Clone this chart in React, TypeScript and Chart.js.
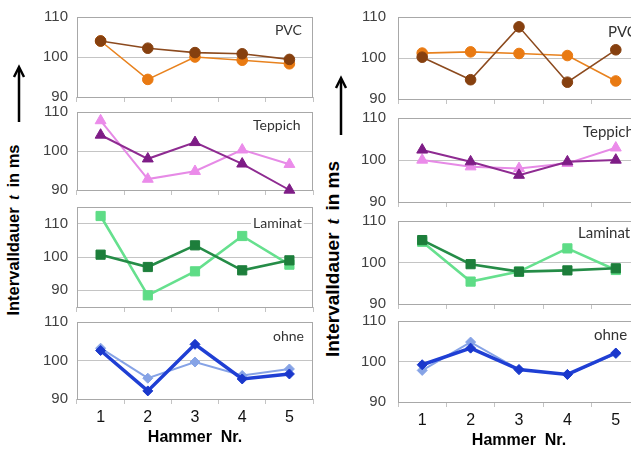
import React, { useEffect, useRef } from "react";
import { Chart, registerables } from "chart.js";

Chart.register(...registerables);

// ---------- data ----------
const hammerLabels = ["1", "2", "3", "4", "5"];
const yTickValues = [90, 100, 110];
const surfaceNames = ["PVC", "Teppich", "Laminat", "ohne"];
const xAxisTitle = "Hammer  Nr.";

// left panel
const leftPvcDark = [104.0, 102.2, 101.1, 100.8, 99.4];
const leftPvcLight = [104.0, 94.4, 100.0, 99.2, 98.3];
const leftTeppichDark = [104.1, 98.0, 102.2, 96.7, 90.0];
const leftTeppichLight = [107.8, 92.8, 94.8, 100.3, 96.6];
const leftLaminatDark = [100.7, 97.0, 103.5, 96.0, 99.0];
const leftLaminatLight = [112.3, 88.5, 95.7, 106.3, 97.7];
const leftOhneDark = [102.6, 92.1, 104.2, 95.2, 96.5];
const leftOhneLight = [103.2, 95.4, 99.6, 96.1, 97.8];

// right panel
const rightPvcDark = [100.2, 94.7, 107.6, 94.1, 102.0];
const rightPvcLight = [101.2, 101.5, 101.1, 100.6, 94.4];
const rightTeppichDark = [102.4, 99.6, 96.4, 99.6, 100.0];
const rightTeppichLight = [100.0, 98.4, 98.0, 99.2, 102.9];
const rightLaminatDark = [105.4, 99.6, 97.8, 98.1, 98.6];
const rightLaminatLight = [105.0, 95.4, 97.8, 103.4, 98.2];
const rightOhneDark = [99.2, 103.3, 98.0, 96.8, 102.1];
const rightOhneLight = [97.8, 104.8, 98.0, 96.8, 101.9];

// y ranges per subplot (min, max)
const leftRanges = [[90, 110], [90, 110], [85, 115], [90, 110]];
const rightRanges = [[90, 110], [90, 110], [90, 110], [90, 110]];

// ---------- styles / layout ----------
const STY: any = {
  PVC: { a: "#8C4A1E", aPt: "#86400F", b: "#E8821E", bPt: "#E97A12", shape: "circle", r: 5.3, wA: 1.6, wB: 1.6 },
  Teppich: { a: "#8E2B91", aPt: "#7E1C86", b: "#E68AE6", bPt: "#EB8BEA", shape: "triangle", r: 6.3, wA: 2, wB: 2 },
  Laminat: { a: "#258C47", aPt: "#1D7E3B", b: "#66E08E", bPt: "#5EDC86", shape: "rect", r: 6.5, wA: 2.6, wB: 2.6 },
  ohne: { a: "#1F3FD4", aPt: "#1A38CC", b: "#86A3E6", bPt: "#86A3E6", shape: "rectRot", r: 5, wA: 3.5, wB: 2 },
};

const Y_W = 60;
const PAD_T = 10;
const PAD_R = 12;
const GRID = "#c4c4c4";
const FRAME = "#a8a8a8";

const zeroPad = (sc: any) => {
  sc.paddingTop = 0;
  sc.paddingBottom = 0;
  sc.paddingLeft = 0;
  sc.paddingRight = 0;
};

const framePlugin = {
  id: "frame",
  beforeDatasetsDraw(chart: any, _args: any, o: any) {
    const { ctx, chartArea: a } = chart;
    ctx.save();
    ctx.strokeStyle = FRAME;
    ctx.lineWidth = 1;
    ctx.strokeRect(Math.round(a.left) + 0.5, Math.round(a.top) + 0.5, Math.round(a.right - a.left) - 1, Math.round(a.bottom - a.top));
    ctx.font = o.font;
    ctx.textAlign = "left";
    ctx.textBaseline = "middle";
    const x = a.left + o.dx;
    const y = a.top + o.dy;
    if (o.bg) {
      const w = ctx.measureText(o.text).width;
      ctx.fillStyle = "#ffffff";
      ctx.fillRect(x - 2, y - 8, w + 4, 16);
    }
    ctx.fillStyle = "#333333";
    ctx.fillText(o.text, x, y);
    ctx.restore();
  },
};

function SubChart(p: any) {
  const ref = useRef<HTMLCanvasElement>(null);
  const xH = p.bottom ? 48 : 10;
  const cw = Y_W + p.w + PAD_R;
  const ch = PAD_T + p.h + xH;
  useEffect(() => {
    const s = STY[p.name];
    const chart = new Chart(ref.current as HTMLCanvasElement, {
      type: "line",
      data: {
        labels: hammerLabels,
        datasets: [
          {
            data: p.a, borderColor: s.a, backgroundColor: s.aPt, pointBackgroundColor: s.aPt,
            pointBorderColor: s.aPt, borderWidth: s.wA, pointStyle: s.shape, pointRadius: s.r,
            pointBorderWidth: 1, tension: 0, clip: false,
          },
          {
            data: p.b, borderColor: s.b, backgroundColor: s.bPt, pointBackgroundColor: s.bPt,
            pointBorderColor: s.bPt, borderWidth: s.wB, pointStyle: s.shape, pointRadius: s.r,
            pointBorderWidth: 1, tension: 0, clip: false,
          },
        ],
      },
      options: {
        responsive: false,
        animation: false,
        devicePixelRatio: 1,
        events: [],
        layout: { padding: { top: PAD_T, right: PAD_R, left: 0, bottom: 0 } },
        plugins: {
          legend: { display: false },
          tooltip: { enabled: false },
          frame: { text: p.name, font: `${p.labelSize}px Lato, "Open Sans", sans-serif`, dx: p.dx, dy: p.dy, bg: p.name === "Laminat" },
        } as any,
        scales: {
          x: {
            type: "category",
            offset: true,
            grid: { display: true, drawOnChartArea: false, drawTicks: true, tickLength: 5, color: GRID, offset: true },
            border: { display: false },
            ticks: { display: p.bottom, padding: 4, color: "#111", font: { family: "Liberation Sans", size: 16 } },
            title: { display: p.bottom, text: xAxisTitle, padding: 0, color: "#000", font: { family: "Liberation Sans", size: 16, weight: "bold" } },
            afterFit: (sc: any) => { sc.height = xH; zeroPad(sc); },
          },
          y: {
            min: p.min,
            max: p.max,
            afterBuildTicks: (sc: any) => { sc.ticks = yTickValues.map((v) => ({ value: v })); },
            grid: { color: GRID, drawTicks: false },
            border: { display: false },
            ticks: { padding: p.tickPad, color: "#404040", font: { family: "Liberation Sans", size: 15 } },
            afterFit: (sc: any) => { sc.width = Y_W; zeroPad(sc); },
          },
        },
      } as any,
      plugins: [framePlugin as any],
    });
    return () => chart.destroy();
  }, []);
  return (
    <canvas
      ref={ref}
      width={cw}
      height={ch}
      style={{ position: "absolute", left: p.l - Y_W, top: p.t - PAD_T, width: cw, height: ch }}
    />
  );
}

function YTitle({ cx, cy, size }: any) {
  return (
    <div
      style={{
        position: "absolute", left: cx - 150, top: cy - 15, width: 300, height: 30, lineHeight: "30px",
        textAlign: "center", transform: "rotate(-90deg)", whiteSpace: "pre", color: "#000",
        font: `bold ${size}px "Liberation Sans", Arial, sans-serif`,
      }}
    >
      {"Intervalldauer "}
      <i style={{ fontFamily: '"Liberation Serif", serif', margin: "0 3px" }}>t</i>
      {" in ms"}
    </div>
  );
}

export default function App() {
  const leftRows = [
    { t: 17, h: 80, a: leftPvcDark, b: leftPvcLight, dx: 198, dy: 13 },
    { t: 112, h: 78, a: leftTeppichDark, b: leftTeppichLight, dx: 176, dy: 13 },
    { t: 207, h: 100, a: leftLaminatDark, b: leftLaminatLight, dx: 176, dy: 16 },
    { t: 322, h: 77, a: leftOhneDark, b: leftOhneLight, dx: 196, dy: 14 },
  ];
  const rightRows = [
    { t: 17, h: 82, a: rightPvcDark, b: rightPvcLight, dx: 210, dy: 15 },
    { t: 118, h: 84, a: rightTeppichDark, b: rightTeppichLight, dx: 185, dy: 14 },
    { t: 221, h: 83, a: rightLaminatDark, b: rightLaminatLight, dx: 180, dy: 12 },
    { t: 321, h: 81, a: rightOhneDark, b: rightOhneLight, dx: 196, dy: 14 },
  ];
  return (
    <div style={{ position: "absolute", left: 0, top: 0, width: 631, height: 449, overflow: "hidden", background: "#fff" }}>
      <svg width={631} height={449} style={{ position: "absolute", left: 0, top: 0 }}>
        <line x1={19} y1={122} x2={19} y2={68} stroke="#000" strokeWidth={2.5} />
        <polyline points="14,77 19,67 24,77" fill="none" stroke="#000" strokeWidth={2.5} />
        <line x1={341} y1={135} x2={341} y2={79} stroke="#000" strokeWidth={2.5} />
        <polyline points="336,88 341,78 346,88" fill="none" stroke="#000" strokeWidth={2.5} />
      </svg>
      <YTitle cx={19} cy={230} size={16.5} />
      <YTitle cx={337} cy={259} size={19} />
      {leftRows.map((r, i) => (
        <SubChart key={"l" + i} name={surfaceNames[i]} l={77} w={236} t={r.t} h={r.h}
          min={leftRanges[i][0]} max={leftRanges[i][1]} a={r.a} b={r.b} dx={r.dx} dy={r.dy}
          labelSize={14} tickPad={9} bottom={i === 3} />
      ))}
      {rightRows.map((r, i) => (
        <SubChart key={"r" + i} name={surfaceNames[i]} l={398} w={242} t={r.t} h={r.h}
          min={rightRanges[i][0]} max={rightRanges[i][1]} a={r.a} b={r.b} dx={r.dx} dy={r.dy}
          labelSize={15} tickPad={12} bottom={i === 3} />
      ))}
    </div>
  );
}
